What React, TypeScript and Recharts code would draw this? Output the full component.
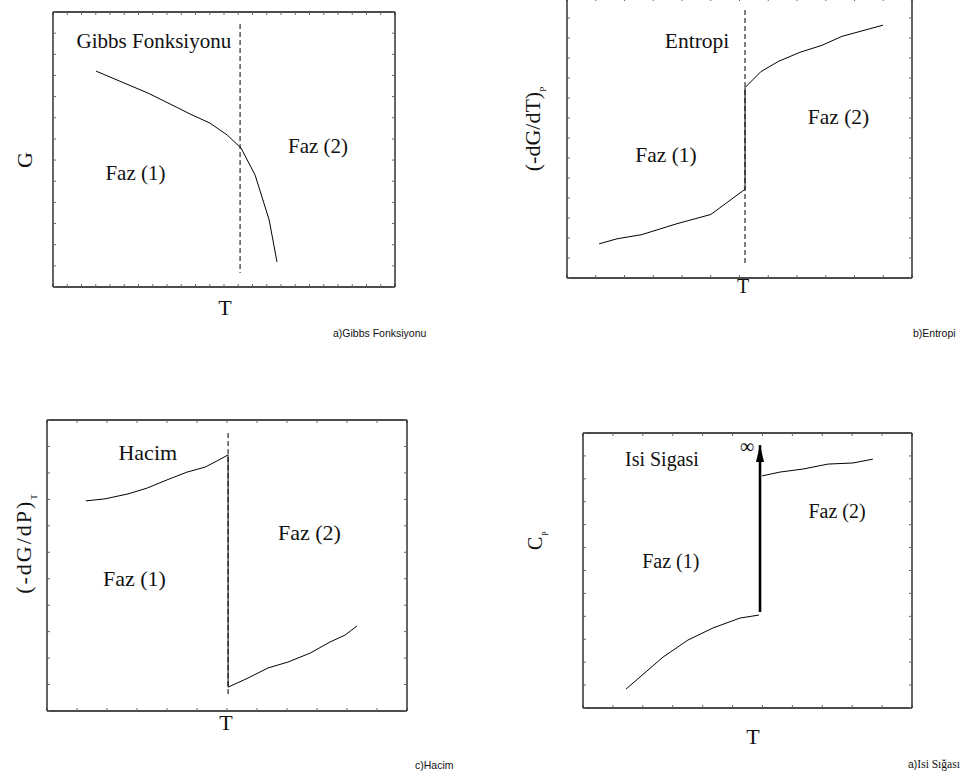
import React from 'react';
import { LineChart, Line, XAxis, YAxis, ReferenceDot } from 'recharts';

const SERIF = '"Liberation Serif", "Times New Roman", serif';
const SANS = '"Liberation Sans", Arial, sans-serif';
const PAD = 10;

// all values are in % of the plot box (0..100 on both axes)

// a) Gibbs function
const gibbsCurve = [
  { x: 12.6, y: 78.5 }, { x: 27.8, y: 70.5 }, { x: 34.8, y: 66.2 }, { x: 40.1, y: 62.9 },
  { x: 45.9, y: 59.6 }, { x: 50.9, y: 55.3 }, { x: 55.0, y: 50.5 }, { x: 59.1, y: 40.7 },
  { x: 63.2, y: 24.4 }, { x: 65.5, y: 9.1 },
];
const gibbsTc = [{ x: 54.7, y: 95.6 }, { x: 54.7, y: 5.1 }];
const gibbsNotes = [
  { x: 29.5, y: 89.6, text: 'Gibbs Fonksiyonu' },
  { x: 24.1, y: 41.6, text: 'Faz (1)' },
  { x: 77.5, y: 51.6, text: 'Faz (2)' },
];

// b) Entropy
const entropyCurve = [
  { x: 9.3, y: 12.2 }, { x: 14.5, y: 14.0 }, { x: 21.7, y: 15.5 }, { x: 31.9, y: 19.4 },
  { x: 41.7, y: 22.7 }, { x: 51.6, y: 31.7 }, { x: 51.6, y: 68.0 }, { x: 56.2, y: 73.7 },
  { x: 61.2, y: 77.3 }, { x: 67.5, y: 80.6 }, { x: 73.9, y: 83.1 }, { x: 79.7, y: 86.3 },
  { x: 91.6, y: 90.3 },
];
const entropyTc = [{ x: 51.6, y: 95.7 }, { x: 51.6, y: 4.7 }];
const entropyNotes = [
  { x: 37.7, y: 84.7, text: 'Entropi' },
  { x: 28.7, y: 44.1, text: 'Faz (1)' },
  { x: 78.7, y: 57.7, text: 'Faz (2)' },
];

// c) Volume
const volumeCurve = [
  { x: 10.8, y: 72.2 }, { x: 16.1, y: 72.9 }, { x: 22.5, y: 74.6 }, { x: 27.8, y: 76.6 },
  { x: 33.3, y: 79.4 }, { x: 38.9, y: 82.1 }, { x: 43.9, y: 83.8 }, { x: 47.2, y: 85.9 },
  { x: 50.3, y: 88.0 }, { x: 50.3, y: 8.2 }, { x: 55.8, y: 11.3 }, { x: 61.4, y: 14.8 },
  { x: 66.9, y: 16.8 }, { x: 73.1, y: 19.9 }, { x: 78.6, y: 23.7 }, { x: 82.8, y: 26.1 },
  { x: 86.1, y: 29.2 },
];
const volumeTc = [{ x: 50.3, y: 95.5 }, { x: 50.3, y: 4.8 }];
const volumeNotes = [
  { x: 28.0, y: 88.8, text: 'Hacim' },
  { x: 72.9, y: 61.3, text: 'Faz (2)' },
  { x: 24.3, y: 45.7, text: 'Faz (1)' },
];

// d) Heat capacity
const heatPhase1 = [
  { x: 13.1, y: 6.9 }, { x: 24.3, y: 18.5 }, { x: 31.9, y: 24.7 }, { x: 39.5, y: 29.1 },
  { x: 47.7, y: 32.7 }, { x: 53.5, y: 33.8 },
];
const heatPhase2 = [
  { x: 54.4, y: 84.4 }, { x: 59.9, y: 85.8 }, { x: 66.9, y: 86.9 }, { x: 74.5, y: 88.7 },
  { x: 82.1, y: 89.1 }, { x: 88.1, y: 90.5 },
];
const heatArrow = [{ x: 53.8, y: 34.9 }, { x: 53.8, y: 95.6 }];
const heatNotes = [
  { x: 24.0, y: 90.7, text: 'Isi Sigasi' },
  { x: 77.2, y: 71.5, text: 'Faz (2)' },
  { x: 26.7, y: 53.6, text: 'Faz (1)' },
  { x: 49.8, y: 95.3, text: '∞' },
];

const ticksOf = (n: number) => Array.from({ length: n + 1 }, (_, i) => (i * 100) / n);

const axisLine = { stroke: '#111', strokeWidth: 1.3 };
const tickLine = { stroke: '#666' };

function ArrowHead(props: any) {
  const { cx, cy, index } = props;
  if (index !== 1 || cx == null) return <g key={`ah-${index}`} />;
  return (
    <polygon
      key={`ah-${index}`}
      points={`${cx},${cy} ${cx - 4},${cy + 17} ${cx + 4},${cy + 17}`}
      fill="#000"
    />
  );
}

// serif annotation centred on a data point
const noteShape = (text: string, size: number) => (p: any) => (
  <text
    x={p.cx}
    y={p.cy + size * 0.355}
    textAnchor="middle"
    fontFamily={SERIF}
    fontSize={text === '∞' ? 20 : size}
    fill="#111"
  >
    {text}
  </text>
);

function Panel({ left, top, width, height, xCount, yCount, notes, size, children }: any) {
  const xt = ticksOf(xCount);
  const yt = ticksOf(yCount);
  const common = {
    type: 'number' as const,
    domain: [0, 100],
    mirror: true,
    tickFormatter: () => '',
    tickSize: 3,
    axisLine,
    tickLine,
    allowDataOverflow: true,
  };
  return (
    <div style={{ position: 'absolute', left: left - PAD, top: top - PAD }}>
      <LineChart width={width + 2 * PAD} height={height + 2 * PAD} margin={{ top: PAD, right: PAD, bottom: PAD, left: PAD }}>
        <XAxis xAxisId={0} dataKey="x" ticks={xt} orientation="bottom" {...common} />
        <XAxis xAxisId="top" dataKey="x" ticks={xt} orientation="top" {...common} />
        <YAxis yAxisId={0} ticks={yt} orientation="left" {...common} />
        <YAxis yAxisId="right" ticks={yt} orientation="right" {...common} />
        {children}
        {notes.map((n: any) => (
          <ReferenceDot key={n.text} x={n.x} y={n.y} r={0} shape={noteShape(n.text, size)} />
        ))}
      </LineChart>
    </div>
  );
}

const solid = { dataKey: 'y', stroke: '#000', strokeWidth: 1, dot: false, isAnimationActive: false };
const dashed = { ...solid, strokeDasharray: '5 3' };

export default function App() {
  return (
    <div style={{ position: 'absolute', left: 0, top: 0, width: 977, height: 776, background: '#fff', overflow: 'hidden' }}>
      <Panel left={53} top={12} width={342} height={275} xCount={24} yCount={13} notes={gibbsNotes} size={21}>
        <Line data={gibbsTc} {...dashed} />
        <Line data={gibbsCurve} {...solid} />
      </Panel>
      <Panel left={567} top={-2} width={345} height={280} xCount={12} yCount={14} notes={entropyNotes} size={21.5}>
        <Line data={entropyTc} {...dashed} />
        <Line data={entropyCurve} {...solid} />
      </Panel>
      <Panel left={47} top={420} width={360} height={291} xCount={12} yCount={11} notes={volumeNotes} size={22}>
        <Line data={volumeTc} {...dashed} />
        <Line data={volumeCurve} {...solid} />
      </Panel>
      <Panel left={583} top={433} width={329} height={275} xCount={11} yCount={12} notes={heatNotes} size={20}>
        <Line data={heatPhase1} {...solid} />
        <Line data={heatPhase2} {...solid} />
        <Line data={heatArrow} {...solid} strokeWidth={2.6} dot={<ArrowHead />} />
      </Panel>

      <svg width={977} height={776} style={{ position: 'absolute', left: 0, top: 0, pointerEvents: 'none' }}>
        <g fontFamily={SERIF} fill="#111">
          {/* axis titles */}
          <text x={32} y={160} fontSize={22} textAnchor="middle" transform="rotate(-90 32 160)">G</text>
          <text x={225} y={315} fontSize={22} textAnchor="middle">T</text>

          <text x={540} y={129} fontSize={22} textAnchor="middle" transform="rotate(-90 540 129)">
            (-dG/dT)<tspan fontSize={9} dy={6}>P</tspan>
          </text>
          <text x={743} y={293} fontSize={20} textAnchor="middle">T</text>

          <text x={31} y={544} fontSize={22} letterSpacing={2} textAnchor="middle" transform="rotate(-90 31 544)">
            (-dG/dP)<tspan fontSize={9} dy={6} letterSpacing={0}>T</tspan>
          </text>
          <text x={226} y={730} fontSize={22} textAnchor="middle">T</text>

          <text x={542} y={550} fontSize={20} transform="rotate(-90 542 550)">
            C<tspan fontSize={8} dy={6} dx={1}>P</tspan>
          </text>
          <text x={753} y={744} fontSize={22} textAnchor="middle">T</text>
        </g>
        <g fontFamily={SANS} fontSize={10.5} fill="#111">
          <text x={333} y={337}>a)Gibbs Fonksiyonu</text>
          <text x={913} y={337}>b)Entropi</text>
          <text x={415} y={769}>c)Hacim</text>
          <text x={908} y={768}>
            a)<tspan fontFamily={SERIF} fontSize={11.5}>Isi Sığası</tspan>
          </text>
        </g>
      </svg>
    </div>
  );
}
